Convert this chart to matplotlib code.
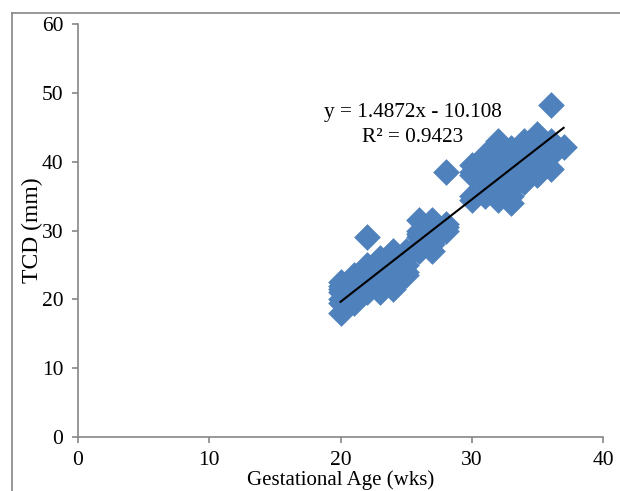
import matplotlib
matplotlib.use("Agg")
import matplotlib.pyplot as plt
import numpy as np
from matplotlib.lines import Line2D

# Data
weeks = [20]*7 + [21]*6 + [22]*7 + [23]*7 + [24]*7 + [25]*5 + [26]*6 + [27]*6 + [28]*4 \
      + [30]*5 + [31]*6 + [32]*9 + [33]*9 + [34]*7 + [35]*7 + [36]*5 + [37]*1
tcd = [18, 20, 21, 22, 22.5, 19.5, 21.5,
       19.5, 21, 22, 23, 23.5, 20.5,
       29, 25, 24, 21, 22, 23, 24.5,
       21, 22, 23, 24, 25, 26, 22.5,
       22, 23, 24, 25, 27, 26, 21.5,
       24, 25, 26, 27, 23.5,
       27, 28, 29, 30, 31.5, 29.5,
       27, 28, 29, 30, 31.5, 28.5,
       30, 31, 38.5, 30.5,
       34.5, 35, 38, 39.5, 38.5,
       35, 37, 38, 40, 41, 36,
       34.5, 35.5, 37, 38, 39, 40, 41, 42.7, 43,
       34, 35, 36, 37, 38, 39, 40, 41, 42,
       37, 38, 39, 40, 41, 42, 43,
       38, 39, 40, 41, 42, 43.4, 44,
       39, 41, 42, 43, 48.3,
       42.2]
slope = 1.4872
intercept = -10.108
r_squared = 0.9423
x_ticks = [0, 10, 20, 30, 40]
y_ticks = [0, 10, 20, 30, 40, 50, 60]

plt.rcParams['font.family'] = ['Liberation Serif', 'DejaVu Serif']
fig = plt.figure(figsize=(6.2, 4.91), dpi=100)
ax = fig.add_axes([78/620, 1-437/491, (603-78)/620, (437-24)/491])

ax.scatter(weeks, tcd, marker='D', s=185, color='#4F81BD', linewidths=0, zorder=2)
xs = np.array([min(weeks), max(weeks)])
ax.plot(xs, slope*xs + intercept, color='black', lw=1.5, zorder=3)

ax.set_xlim(0, 40)
ax.set_ylim(0, 60)
ax.set_xticks(x_ticks)
ax.set_yticks(y_ticks)
for s in ['top', 'right']:
    ax.spines[s].set_visible(False)
for s in ['left', 'bottom']:
    ax.spines[s].set_color('#868686')
    ax.spines[s].set_linewidth(1.2)
ax.tick_params(direction='out', length=4.5, width=1.2, color='#868686', labelsize=15.5)
ax.tick_params(axis='x', pad=5.5)
ax.tick_params(axis='y', pad=6)

fig.text(413/620, 1-113/491, f'y = {slope}x - {abs(intercept)}', ha='center', va='center', fontsize=15.3)
fig.text(413/620, 1-137/491, f'R² = {r_squared}', ha='center', va='center', fontsize=15.3)

fig.text(32/620, 1-230/491, 'TCD (mm)', rotation=90, ha='center', va='center', fontsize=17)
fig.text(341/620, 1-480.5/491, 'Gestational Age (wks)', ha='center', va='center', fontsize=15)

# figure border
bx, by = 11.5/620, 1-12.5/491
fig.add_artist(Line2D([bx, bx], [-0.1, by], transform=fig.transFigure, color='#868686', lw=1.2))
fig.add_artist(Line2D([bx, 1.1], [by, by], transform=fig.transFigure, color='#868686', lw=1.2))

fig.savefig('out.png', dpi=100)
